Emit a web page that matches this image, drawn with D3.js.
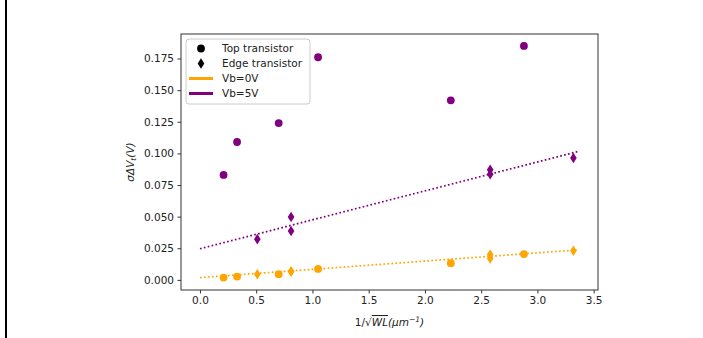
<!DOCTYPE html>
<html>
<head>
<meta charset="utf-8">
<script src="https://cdn.jsdelivr.net/npm/d3@7"></script>
<style>
  html, body { margin: 0; padding: 0; background: #fff; }
  svg { display: block; font-family: "DejaVu Sans", sans-serif; }
</style>
</head>
<body>
<svg id="chart" width="703" height="338"></svg>
<script>
// values
const topX = [0.21, 0.33, 0.70, 1.05, 2.23, 2.88];
const top0V = [0.0018, 0.0026, 0.0045, 0.0087, 0.0132, 0.0204];
const top5V = [0.083, 0.109, 0.124, 0.176, 0.142, 0.185];

const edgeX = [0.51, 0.81, 0.81, 2.58, 2.58, 3.32];
const edge0V = [0.0045, 0.0066, 0.0066, 0.0200, 0.0170, 0.0230];
const edge5V = [0.0322, 0.0497, 0.0386, 0.0870, 0.0835, 0.0964];

const fitX = [0, 3.37];
const fit0V = [0.0018, 0.0238];
const fit5V = [0.0246, 0.1017];

const xTicks = [0.0, 0.5, 1.0, 1.5, 2.0, 2.5, 3.0, 3.5];
const yTicks = [0.000, 0.025, 0.050, 0.075, 0.100, 0.125, 0.150, 0.175];

const ORANGE = "#ffa500", PURPLE = "#800080";
const FS = "10.5px";

const svg = d3.select("#chart");

// left page edge line
svg.append("rect").attr("x", 5).attr("y", 0).attr("width", 2).attr("height", 338).attr("fill", "#000");

const L = 181, R = 598, T = 34, B = 290;
const x = d3.scaleLinear().domain([-0.1685, 3.5385]).range([L, R]);
const y = d3.scaleLinear().domain([-0.008, 0.1944]).range([B, T]);

const axisCol = "#333";

const gx = svg.append("g").attr("transform", `translate(0,${B})`)
  .call(d3.axisBottom(x).tickValues(xTicks).tickFormat(d3.format(".1f")).tickSizeOuter(0).tickSize(3.5).tickPadding(3.5));
const gy = svg.append("g").attr("transform", `translate(${L},0)`)
  .call(d3.axisLeft(y).tickValues(yTicks).tickFormat(d3.format(".3f")).tickSizeOuter(0).tickSize(3.5).tickPadding(3.5));
[gx, gy].forEach(g => {
  g.select(".domain").remove();
  g.selectAll("line").attr("stroke", axisCol);
  g.selectAll("text").attr("fill", "#222").style("font-size", FS).style("font-family", "DejaVu Sans");
});

// fit lines
const line = d3.line().x(d => x(d[0])).y(d => y(d[1]));
[[fit0V, ORANGE], [fit5V, PURPLE]].forEach(([vals, col]) => {
  svg.append("path")
    .attr("d", line(fitX.map((v, i) => [v, vals[i]])))
    .attr("fill", "none").attr("stroke", col)
    .attr("stroke-width", 1.7).attr("stroke-dasharray", "1.7,2.3");
});

// markers
function circles(xs, ys, col) {
  svg.append("g").selectAll("circle").data(xs.map((v, i) => [v, ys[i]])).join("circle")
    .attr("cx", d => x(d[0])).attr("cy", d => y(d[1])).attr("r", 3.9).attr("fill", col);
}
const diamond = "M0,-5.3L3.3,0L0,5.3L-3.3,0Z";
function diamonds(xs, ys, col) {
  svg.append("g").selectAll("path").data(xs.map((v, i) => [v, ys[i]])).join("path")
    .attr("d", diamond).attr("transform", d => `translate(${x(d[0])},${y(d[1])})`).attr("fill", col);
}
circles(topX, top5V, PURPLE);
circles(topX, top0V, ORANGE);
diamonds(edgeX, edge5V, PURPLE);
diamonds(edgeX, edge0V, ORANGE);

// frame
svg.append("rect").attr("x", L).attr("y", T).attr("width", R - L).attr("height", B - T)
  .attr("fill", "none").attr("stroke", axisCol).attr("stroke-width", 1);

// axis labels
svg.append("text").attr("x", (L + R) / 2).attr("y", 326).attr("text-anchor", "middle")
  .style("font-size", FS).attr("fill", "#222")
  .html('1/√<tspan font-style="italic" text-decoration="overline">WL</tspan><tspan font-style="italic">(μm</tspan><tspan font-size="7.5px" dy="-4" font-style="italic">−1</tspan><tspan dy="4" font-style="italic">)</tspan>');

svg.append("text").attr("transform", `translate(134,${(T + B) / 2}) rotate(-90)`).attr("text-anchor", "middle")
  .style("font-size", FS).attr("fill", "#222")
  .html('<tspan font-style="italic">σΔV</tspan><tspan font-size="7.5px" dy="2" font-style="italic">t</tspan><tspan dy="-2" font-style="italic">(V)</tspan>');

// legend
const leg = svg.append("g");
leg.append("rect").attr("x", 186).attr("y", 39).attr("width", 124).attr("height", 65).attr("rx", 3)
  .attr("fill", "#fff").attr("fill-opacity", 0.8).attr("stroke", "#ccc");
const legItems = [
  { label: "Top transistor", kind: "circle" },
  { label: "Edge transistor", kind: "diamond" },
  { label: "Vb=0V", kind: "line", col: ORANGE },
  { label: "Vb=5V", kind: "line", col: PURPLE }
];
legItems.forEach((d, i) => {
  const cy = 48.5 + i * 15;
  if (d.kind === "circle") leg.append("circle").attr("cx", 201).attr("cy", cy).attr("r", 3.9).attr("fill", "#000");
  else if (d.kind === "diamond") leg.append("path").attr("d", diamond).attr("transform", `translate(201,${cy})`).attr("fill", "#000");
  else leg.append("line").attr("x1", 189).attr("x2", 213).attr("y1", cy).attr("y2", cy).attr("stroke", d.col).attr("stroke-width", 3);
  leg.append("text").attr("x", 222).attr("y", cy).attr("dy", "0.35em").style("font-size", FS).attr("fill", "#222").text(d.label);
});
</script>
</body>
</html>
